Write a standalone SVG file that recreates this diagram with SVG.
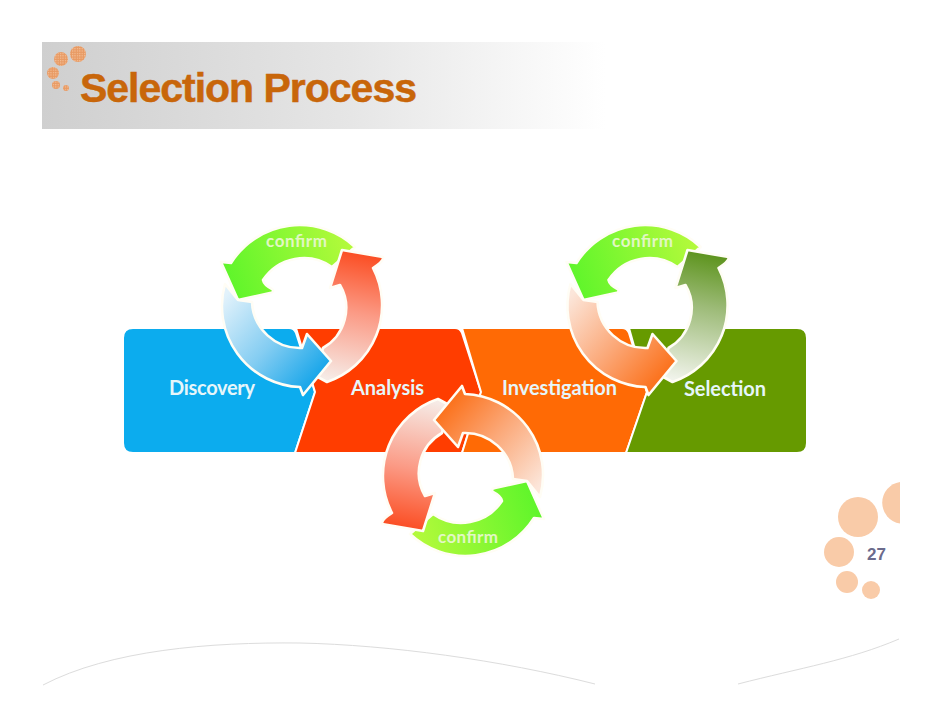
<svg xmlns="http://www.w3.org/2000/svg" xmlns:xlink="http://www.w3.org/1999/xlink" width="942" height="728" viewBox="0 0 942 728">
<style>
.lbl{font-family:Lato,"Open Sans",sans-serif;font-weight:700;font-size:20px;fill:#e6f6fa}
.cf{font-family:Lato,"Open Sans",sans-serif;font-weight:700;font-size:17px;fill:#e2f7c4}
.arc{stroke:#fffdf5;stroke-width:2.6;stroke-linejoin:round}
.blk{stroke:#fff;stroke-width:2;stroke-linejoin:round}
.deco{fill:#f9cba8}
.curve{fill:none;stroke:#dcdcdc;stroke-width:1}
</style>
<defs>
<linearGradient id="hdr" x1="0" x2="1" y1="0" y2="0"><stop offset="0" stop-color="#cfcfcf"/><stop offset=".55" stop-color="#e6e6e6"/><stop offset="1" stop-color="#fff"/></linearGradient>
<pattern id="dots" width="2.4" height="2.4" patternUnits="userSpaceOnUse"><rect width="2.4" height="2.4" fill="#e89a63"/><rect width="1.2" height="1.2" fill="#f4c19a"/></pattern>
<linearGradient id="gGreen" gradientUnits="userSpaceOnUse" x1="225" y1="285" x2="355" y2="240"><stop offset="0" stop-color="#5cf52a"/><stop offset="1" stop-color="#b8fa3c"/></linearGradient>
<linearGradient id="gRed" gradientUnits="userSpaceOnUse" x1="360" y1="255" x2="335" y2="380"><stop offset="0" stop-color="#fb5026"/><stop offset=".45" stop-color="#fb9a85"/><stop offset="1" stop-color="#f6ebe6"/></linearGradient>
<linearGradient id="gOlive" gradientUnits="userSpaceOnUse" x1="360" y1="255" x2="335" y2="380"><stop offset="0" stop-color="#5f9520"/><stop offset=".4" stop-color="#9dbb78"/><stop offset="1" stop-color="#f0f3ea"/></linearGradient>
<linearGradient id="gBlue" gradientUnits="userSpaceOnUse" x1="230" y1="290" x2="320" y2="370"><stop offset="0" stop-color="#e2f2fb"/><stop offset=".55" stop-color="#84cdf2"/><stop offset="1" stop-color="#1ea8ea"/></linearGradient>
<linearGradient id="gOrange" gradientUnits="userSpaceOnUse" x1="230" y1="290" x2="320" y2="370"><stop offset="0" stop-color="#fce6da"/><stop offset=".55" stop-color="#fba878"/><stop offset="1" stop-color="#fb7420"/></linearGradient>
<path id="aGreen" class="arc" d="M221 262 L231 263 A81 81 0 0 1 355 247 L332 267 A49 49 0 0 0 263 280 Q264 285 272 289 Q275 292 270 293 L238 300 Z"/>
<path id="aRight" class="arc" d="M342 250 L383 257 Q384 261 373 268 A81 81 0 0 1 327 382 L316 376 L323 348 A46 46 0 0 0 340 285 L330 288 Z"/>
<path id="aLeft" class="arc" d="M225 284 L238 300 L252 302 A48 48 0 0 0 302 348 L307 334 L331 361 L303 395 L300 387 A81 81 0 0 1 225 284 Z"/>
</defs>
<rect width="942" height="728" fill="#fff"/>
<rect x="42" y="42" width="563" height="87" fill="url(#hdr)"/>
<g fill="url(#dots)"><circle cx="78" cy="54" r="8"/><circle cx="61" cy="59" r="7"/><circle cx="53" cy="73" r="6"/><circle cx="56" cy="85" r="4"/><circle cx="66" cy="88" r="3"/></g>
<text x="80" y="102" font-family="'Liberation Sans',Arial,sans-serif" font-weight="700" font-size="41" fill="#c8660a" stroke="#c8660a" stroke-width=".5" textLength="337" lengthAdjust="spacing">Selection Process</text>
<g id="node-discovery"><path class="blk" d="M133 328 H289 Q294 328 296 333 L315 392 L295 453 H133 Q123 453 123 443 V338 Q123 328 133 328 Z" fill="#0cacee"/><text class="lbl" x="169" y="395" textLength="86">Discovery</text></g>
<g id="node-analysis"><path class="blk" d="M296 328 H455 Q460 328 462 333 L481 392 L462 453 H295 L315 392 Z" fill="#ff3d00"/><text class="lbl" x="351" y="395" textLength="73">Analysis</text></g>
<g id="node-investigation"><path class="blk" d="M462 328 H622 Q627 328 629 333 L647 392 L626 453 H462 L481 392 Z" fill="#ff6a05"/><text class="lbl" x="502" y="395" textLength="115">Investigation</text></g>
<g id="node-selection"><path class="blk" d="M629 328 H797 Q807 328 807 338 V443 Q807 453 797 453 H626 L647 392 Z" fill="#669a00"/><text class="lbl" x="684" y="396" textLength="82">Selection</text></g>
<g id="connectors">
<g id="cycle-1"><use xlink:href="#aGreen" href="#aGreen" fill="url(#gGreen)"/><use xlink:href="#aRight" href="#aRight" fill="url(#gRed)"/><use xlink:href="#aLeft" href="#aLeft" fill="url(#gBlue)"/></g>
<g id="cycle-2" transform="translate(345.5 0)"><use xlink:href="#aGreen" href="#aGreen" fill="url(#gGreen)"/><use xlink:href="#aRight" href="#aRight" fill="url(#gOlive)"/><use xlink:href="#aLeft" href="#aLeft" fill="url(#gOrange)"/></g>
<g id="cycle-3" transform="translate(765 781) rotate(180)"><use xlink:href="#aGreen" href="#aGreen" fill="url(#gGreen)"/><use xlink:href="#aRight" href="#aRight" fill="url(#gRed)"/><use xlink:href="#aLeft" href="#aLeft" fill="url(#gOrange)"/></g>
<text class="cf" x="266" y="247" textLength="61">confirm</text>
<text class="cf" x="612" y="247" textLength="61">confirm</text>
<text class="cf" x="438" y="543" textLength="60">confirm</text>
</g>
<circle class="deco" cx="858" cy="517" r="20"/><circle class="deco" cx="839" cy="552" r="15"/><circle class="deco" cx="847" cy="582" r="11"/><circle class="deco" cx="871" cy="590" r="9"/>
<path class="deco" d="M900 482 A21 21 0 0 0 900 523.500 Z"/>
<text x="867" y="560" font-family="'Liberation Sans',Arial,sans-serif" font-weight="700" font-size="17" fill="#6b6b8c">27</text>
<path class="curve" d="M43 685 C110 650 210 642 300 643 C390 645 500 660 595 684"/>
<path class="curve" d="M738 684 C800 668 850 660 899 639"/>
</svg>
